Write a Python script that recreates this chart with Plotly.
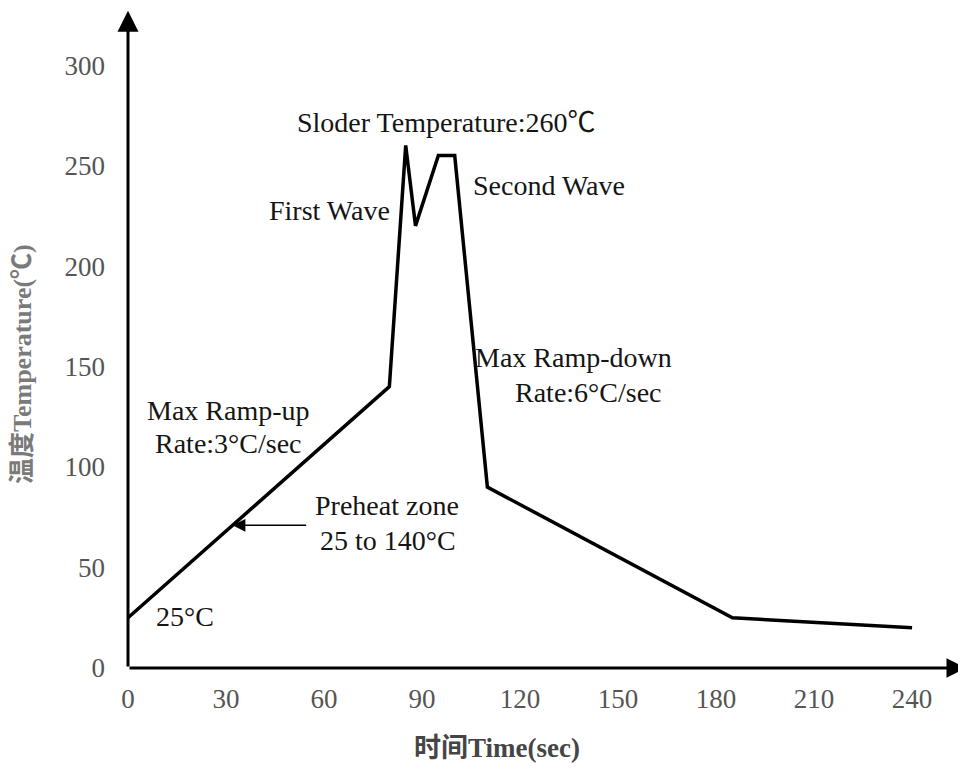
import plotly.graph_objects as go

# Data
time_s = [0, 80, 85, 88, 95, 100, 110, 185, 240]
temp_c = [25, 140, 260, 220, 255, 255, 90, 25, 20]

x_ticks = [0, 30, 60, 90, 120, 150, 180, 210, 240]
y_ticks = [0, 50, 100, 150, 200, 250, 300]

labels = [
    ("Sloder Temperature:260\u2103", 97.2, 271.6),
    ("First Wave", 61.8, 227.4),
    ("Second Wave", 128.9, 240.3),
    ("Max Ramp-up", 30.9, 127.9),
    ("Rate:3°C/sec", 30.8, 111.9),
    ("Max Ramp-down", 136.3, 154.7),
    ("Rate:6°C/sec", 140.8, 137.3),
    ("Preheat zone", 79.4, 81.1),
    ("25 to 140°C", 79.6, 63.2),
    ("25°C", 17.4, 25.4),
]

FONT = "Liberation Serif, Times New Roman, Noto Sans CJK SC, serif"

fig = go.Figure()
fig.add_trace(go.Scatter(
    x=time_s, y=temp_c, mode="lines",
    line=dict(color="black", width=3.5),
    cliponaxis=False, hoverinfo="skip", showlegend=False,
))

X_MAX = 256.5
Y_MAX = 328.4

annotations = []
# axis arrows
annotations.append(dict(x=X_MAX, y=0, ax=0, ay=0, xref="x", yref="y", axref="x", ayref="y",
                        text="", showarrow=True, arrowhead=2, arrowsize=1.3, arrowwidth=3,
                        arrowcolor="black", standoff=0, startstandoff=0))
annotations.append(dict(x=0, y=327, ax=0, ay=0, xref="x", yref="y", axref="x", ayref="y",
                        text="", showarrow=True, arrowhead=2, arrowsize=1.4, arrowwidth=3,
                        arrowcolor="black", standoff=0, startstandoff=0))
# preheat arrow
annotations.append(dict(x=32, y=71, ax=55, ay=71, xref="x", yref="y", axref="x", ayref="y",
                        text="", showarrow=True, arrowhead=2, arrowsize=1.6, arrowwidth=1.6,
                        arrowcolor="black", standoff=0, startstandoff=0))

for txt, lx, ly in labels:
    annotations.append(dict(x=lx, y=ly, xref="x", yref="y", text=txt, showarrow=False,
                            font=dict(family=FONT, size=28, color="#151515"),
                            xanchor="center", yanchor="middle"))

annotations.append(dict(x=0.4403, y=-0.1212, xref="paper", yref="paper",
                        text="<b>时间Time(sec)</b>", showarrow=False,
                        font=dict(family=FONT, size=27, color="#454545"),
                        xanchor="center", yanchor="middle"))
annotations.append(dict(x=-0.1265, y=0.4606, xref="paper", yref="paper",
                        text="<b>温度Temperature(℃)</b>", showarrow=False, textangle=-90,
                        font=dict(family=FONT, size=26, color="#7a7a7a"),
                        xanchor="center", yanchor="middle"))

fig.update_layout(
    width=958, height=763,
    margin=dict(l=120, r=0, t=0, b=103),
    paper_bgcolor="white", plot_bgcolor="white",
    xaxis=dict(range=[0, X_MAX], tickvals=x_ticks, ticktext=[str(v) for v in x_ticks],
               showgrid=False, zeroline=False, showline=False, ticks="",
               tickfont=dict(family=FONT, size=27, color="#555555"),
               ticklabelstandoff=12),
    yaxis=dict(range=[0, Y_MAX], tickvals=y_ticks, ticktext=[str(v) for v in y_ticks],
               showgrid=False, zeroline=False, showline=False, ticks="",
               tickfont=dict(family=FONT, size=27, color="#555555"),
               ticklabelstandoff=22),
    annotations=annotations,
)

fig.write_html("out.html")
